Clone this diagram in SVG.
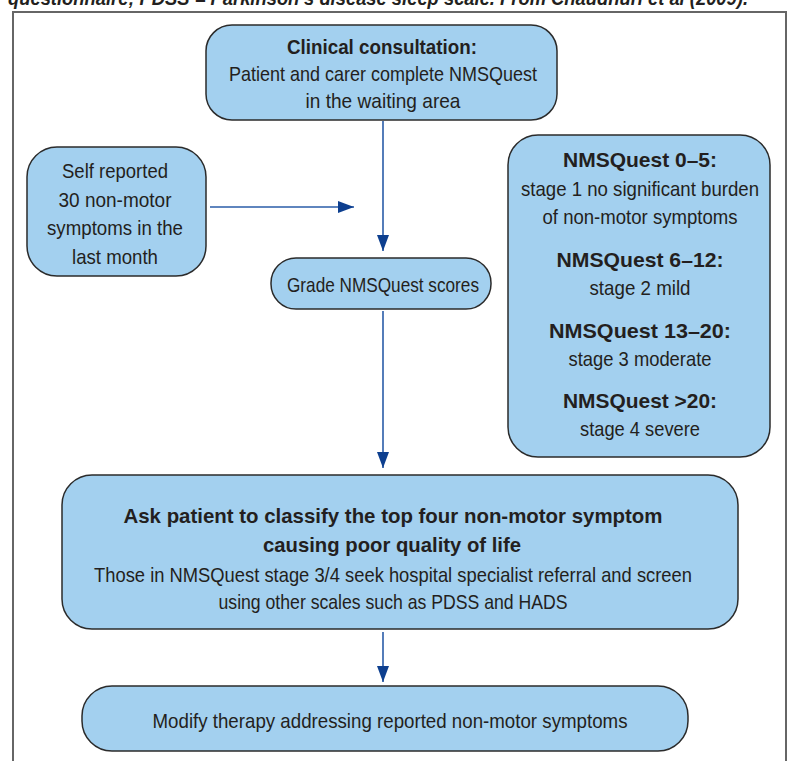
<svg xmlns="http://www.w3.org/2000/svg" width="790" height="761" viewBox="0 0 790 761">
<defs>
<style>
.box{fill:#a3d0ef;stroke:#2b2b2b;stroke-width:1.5}
.t{font-family:"Liberation Sans",Arial,sans-serif;font-size:21px;fill:#231f20;text-anchor:middle}
.b{font-weight:bold}
.c{stroke:#2a5ca8;stroke-width:1.6;fill:none}
.cap{font-family:"Liberation Sans",Arial,sans-serif;font-size:21px;font-weight:bold;font-style:italic;fill:#231f20}
</style>
<marker id="ah2" viewBox="0 0 16 12" refX="16" refY="6" markerWidth="16" markerHeight="12" markerUnits="userSpaceOnUse" orient="auto">
<path d="M0,0 L16,6 L0,12 z" fill="#0d3f8f"/>
</marker>
</defs>
<rect width="790" height="761" fill="#ffffff"/>
<text class="cap" x="8" y="5" textLength="740" lengthAdjust="spacingAndGlyphs">questionnaire; PDSS = Parkinson’s disease sleep scale. From Chaudhuri et al (2009).</text>
<path d="M13,761 V12 H786 V761" fill="none" stroke="#666" stroke-width="2"/>

<g id="connectors">
<line class="c" x1="383" y1="121" x2="383" y2="251" marker-end="url(#ah2)"/>
<line class="c" x1="210" y1="207" x2="354" y2="207" marker-end="url(#ah2)"/>
<line class="c" x1="383" y1="311" x2="383" y2="468" marker-end="url(#ah2)"/>
<line class="c" x1="383" y1="632" x2="383" y2="682" marker-end="url(#ah2)"/>
</g>

<g id="consultation">
<rect class="box" x="206" y="25" width="351" height="95" rx="26"/>
<text class="t b" x="382" y="54" textLength="190" lengthAdjust="spacingAndGlyphs">Clinical consultation:</text>
<text class="t" x="383" y="81" textLength="308" lengthAdjust="spacingAndGlyphs">Patient and carer complete NMSQuest</text>
<text class="t" x="383" y="108" textLength="155" lengthAdjust="spacingAndGlyphs">in the waiting area</text>
</g>

<g id="self-reported">
<rect class="box" x="27" y="147" width="179" height="129" rx="30"/>
<text class="t" x="115" y="178" textLength="106" lengthAdjust="spacingAndGlyphs">Self reported</text>
<text class="t" x="115" y="207" textLength="113" lengthAdjust="spacingAndGlyphs">30 non-motor</text>
<text class="t" x="115" y="235" textLength="136" lengthAdjust="spacingAndGlyphs">symptoms in the</text>
<text class="t" x="115" y="264" textLength="86" lengthAdjust="spacingAndGlyphs">last month</text>
</g>

<g id="grade">
<rect class="box" x="271" y="258" width="220" height="51" rx="25"/>
<text class="t" x="383" y="292" textLength="192" lengthAdjust="spacingAndGlyphs">Grade NMSQuest scores</text>
</g>

<g id="stages">
<rect class="box" x="508" y="135" width="262" height="322" rx="30"/>
<text class="t b" x="640" y="167" textLength="154" lengthAdjust="spacingAndGlyphs">NMSQuest 0–5:</text>
<text class="t" x="640" y="196" textLength="238" lengthAdjust="spacingAndGlyphs">stage 1 no significant burden</text>
<text class="t" x="640" y="224" textLength="195" lengthAdjust="spacingAndGlyphs">of non-motor symptoms</text>
<text class="t b" x="640" y="267" textLength="167" lengthAdjust="spacingAndGlyphs">NMSQuest 6–12:</text>
<text class="t" x="640" y="295" textLength="101" lengthAdjust="spacingAndGlyphs">stage 2 mild</text>
<text class="t b" x="640" y="338" textLength="182" lengthAdjust="spacingAndGlyphs">NMSQuest 13–20:</text>
<text class="t" x="640" y="366" textLength="143" lengthAdjust="spacingAndGlyphs">stage 3 moderate</text>
<text class="t b" x="640" y="408" textLength="154" lengthAdjust="spacingAndGlyphs">NMSQuest &gt;20:</text>
<text class="t" x="640" y="436" textLength="120" lengthAdjust="spacingAndGlyphs">stage 4 severe</text>
</g>

<g id="classify">
<rect class="box" x="62" y="475" width="676" height="154" rx="30"/>
<text class="t b" x="393" y="523" textLength="539" lengthAdjust="spacingAndGlyphs">Ask patient to classify the top four non-motor symptom</text>
<text class="t b" x="392" y="552" textLength="258" lengthAdjust="spacingAndGlyphs">causing poor quality of life</text>
<text class="t" x="393" y="582" textLength="598" lengthAdjust="spacingAndGlyphs">Those in NMSQuest stage 3/4 seek hospital specialist referral and screen</text>
<text class="t" x="393" y="609" textLength="349" lengthAdjust="spacingAndGlyphs">using other scales such as PDSS and HADS</text>
</g>

<g id="modify">
<rect class="box" x="82" y="686" width="606" height="65" rx="30"/>
<text class="t" x="390" y="728" textLength="475" lengthAdjust="spacingAndGlyphs">Modify therapy addressing reported non-motor symptoms</text>
</g>
</svg>
